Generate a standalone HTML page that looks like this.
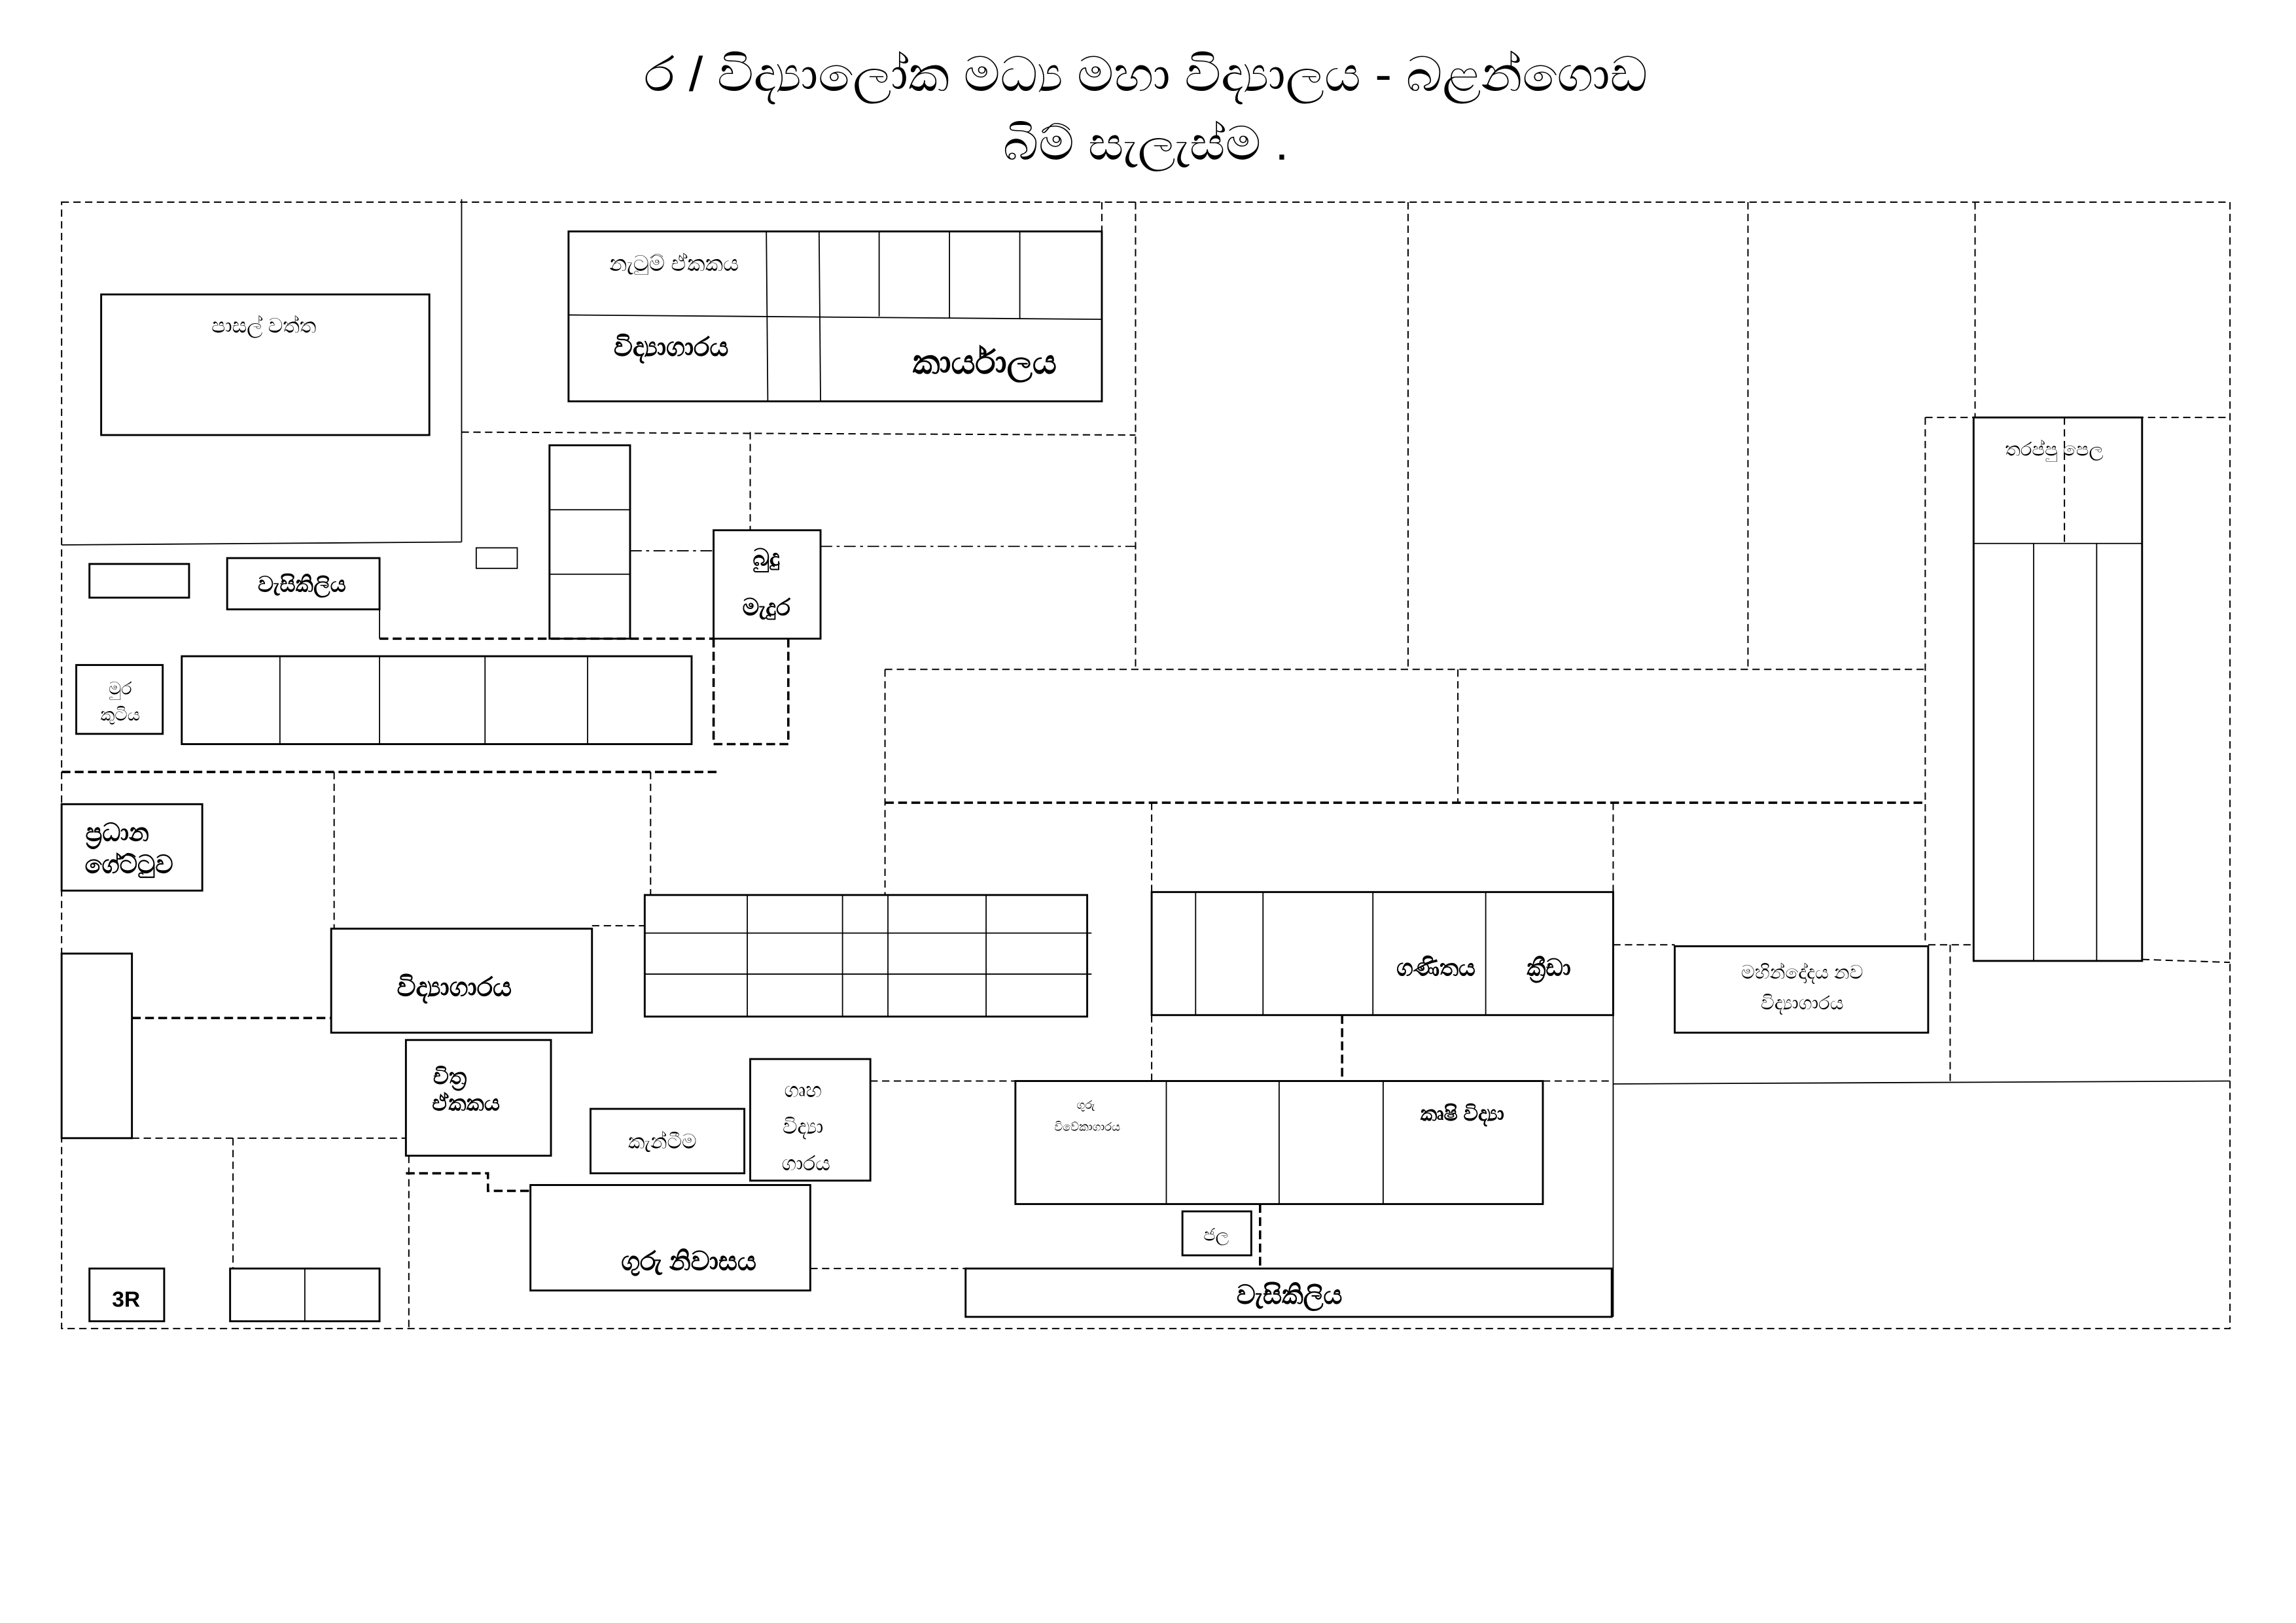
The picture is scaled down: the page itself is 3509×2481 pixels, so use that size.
<!DOCTYPE html>
<html><head><meta charset="utf-8"><style>
html,body{margin:0;padding:0;background:#fff;}
svg{display:block;}
text{font-family:"Liberation Sans","Noto Sans CJK SC",sans-serif;fill:#000;text-anchor:middle;}
.s{fill:none;stroke:#000;stroke-width:1.3;}
.t{fill:none;stroke:#000;stroke-width:0.8;}
.d{fill:none;stroke:#000;stroke-width:0.9;stroke-dasharray:5,3;}
.dd{fill:none;stroke:#000;stroke-width:1.6;stroke-dasharray:6,3;}
.dc{fill:none;stroke:#000;stroke-width:0.8;stroke-dasharray:8,3,2,3;}
</style></head><body>
<svg width="3509" height="2481" viewBox="0 0 1567 1108" xmlns="http://www.w3.org/2000/svg">
<rect width="1567" height="1108" fill="#fff"/>
<text x="782" y="62" font-size="33" textLength="685" lengthAdjust="spacingAndGlyphs">ර / විද්‍යාලෝක මධ්‍ය මහා විද්‍යාලය - බළන්ගොඩ</text>
<text x="782" y="109" font-size="32" textLength="195" lengthAdjust="spacingAndGlyphs">බිම් සැලැස්ම .</text>

<rect x="42" y="138" width="1480" height="769" class="d"/>

<rect x="69" y="201" width="224" height="96" class="s"/>
<text x="180" y="227" font-size="14">පාසල් වත්ත</text>
<line x1="315" y1="136" x2="315" y2="370" class="t"/>
<line x1="42" y1="372" x2="315" y2="370" class="t"/>

<rect x="388" y="158" width="364" height="116" class="s"/>
<line x1="388" y1="215" x2="752" y2="218" class="t"/>
<line x1="523" y1="158" x2="524" y2="274" class="t"/>
<line x1="559" y1="158" x2="560" y2="274" class="t"/>
<line x1="600" y1="158" x2="600" y2="216" class="t"/>
<line x1="648" y1="158" x2="648" y2="217" class="t"/>
<line x1="696" y1="158" x2="696" y2="218" class="t"/>
<text x="460" y="185" font-size="15">නැටුම් ඒකකය</text>
<text x="458" y="243" font-size="18" font-weight="bold">විද්‍යාගාරය</text>
<text x="672" y="255" font-size="23" font-weight="bold">කාර්යාලය</text>

<line x1="775" y1="138" x2="775" y2="456" class="d"/>
<line x1="752" y1="138" x2="752" y2="158" class="d"/>
<line x1="315" y1="295" x2="775" y2="297" class="d"/>
<line x1="512" y1="295" x2="512" y2="362" class="d"/>
<line x1="560" y1="373" x2="775" y2="373" class="dc"/>
<line x1="430" y1="376" x2="487" y2="376" class="dc"/>
<line x1="961" y1="138" x2="961" y2="456" class="d"/>
<line x1="1193" y1="138" x2="1193" y2="456" class="d"/>
<line x1="1348" y1="138" x2="1348" y2="285" class="d"/>

<rect x="375" y="304" width="55" height="132" class="s"/>
<line x1="375" y1="348" x2="430" y2="348" class="t"/>
<line x1="375" y1="392" x2="430" y2="392" class="t"/>
<rect x="325" y="374" width="28" height="14" class="t"/>
<rect x="61" y="385" width="68" height="23" class="s"/>
<rect x="155" y="381" width="104" height="35" class="s"/>
<text x="206" y="404" font-size="15" font-weight="bold">වැසිකිලිය</text>
<rect x="487" y="362" width="73" height="74" class="s"/>
<text x="523" y="386" font-size="16" font-weight="bold">බුදු</text>
<text x="523" y="420" font-size="16" font-weight="bold">මැදුර</text>
<line x1="259" y1="436" x2="487" y2="436" class="dd"/>
<line x1="487" y1="436" x2="487" y2="508" class="dd"/>
<line x1="538" y1="436" x2="538" y2="508" class="dd"/>
<line x1="487" y1="508" x2="538" y2="508" class="dd"/>
<line x1="259" y1="416" x2="259" y2="436" class="t"/>
<rect x="52" y="454" width="59" height="47" class="s"/>
<text x="82" y="474" font-size="12">මුර</text>
<text x="82" y="492" font-size="12">කුටිය</text>
<rect x="124" y="448" width="348" height="60" class="s"/>
<line x1="191" y1="448" x2="191" y2="508" class="t"/>
<line x1="259" y1="448" x2="259" y2="508" class="t"/>
<line x1="331" y1="448" x2="331" y2="508" class="t"/>
<line x1="401" y1="448" x2="401" y2="508" class="t"/>
<line x1="42" y1="527" x2="492" y2="527" class="dd"/>

<line x1="604" y1="457" x2="1314" y2="457" class="d"/>
<line x1="604" y1="457" x2="604" y2="611" class="d"/>
<line x1="604" y1="548" x2="1314" y2="548" class="dd"/>
<line x1="995" y1="457" x2="995" y2="548" class="d"/>
<line x1="1314" y1="285" x2="1522" y2="285" class="d"/>
<line x1="1314" y1="285" x2="1314" y2="645" class="d"/>
<line x1="1101" y1="548" x2="1101" y2="609" class="d"/>
<line x1="786" y1="548" x2="786" y2="609" class="d"/>
<line x1="444" y1="527" x2="444" y2="611" class="d"/>
<line x1="228" y1="527" x2="228" y2="634" class="d"/>

<rect x="42" y="549" width="96" height="59" class="s"/>
<text x="80" y="574" font-size="17" font-weight="bold">ප්‍රධාන</text>
<text x="88" y="596" font-size="17" font-weight="bold">ගේට්ටුව</text>

<rect x="1347" y="285" width="115" height="371" class="s"/>
<line x1="1347" y1="371" x2="1462" y2="371" class="t"/>
<line x1="1388" y1="371" x2="1388" y2="656" class="t"/>
<line x1="1431" y1="371" x2="1431" y2="656" class="t"/>
<line x1="1409" y1="285" x2="1409" y2="371" class="d"/>
<text x="1402" y="311" font-size="13">තරප්පු පෙල</text>
<line x1="1462" y1="655" x2="1522" y2="657" class="d"/>

<rect x="42" y="651" width="48" height="126" class="s"/>
<rect x="226" y="634" width="178" height="71" class="s"/>
<text x="310" y="680" font-size="18" font-weight="bold">විද්‍යාගාරය</text>
<line x1="404" y1="632" x2="440" y2="632" class="d"/>
<line x1="90" y1="695" x2="226" y2="695" class="dd"/>
<rect x="277" y="710" width="99" height="79" class="s"/>
<text x="307" y="740" font-size="15" font-weight="bold">චිත්‍ර</text>
<text x="318" y="758" font-size="15" font-weight="bold">ඒකකය</text>
<line x1="90" y1="777" x2="277" y2="777" class="d"/>
<line x1="159" y1="777" x2="159" y2="866" class="d"/>
<polyline points="277,801 333,801 333,813 362,813" class="dd"/>
<line x1="279" y1="789" x2="279" y2="907" class="d"/>
<rect x="403" y="757" width="105" height="44" class="s"/>
<text x="452" y="784" font-size="14">කැන්ටීම</text>
<rect x="512" y="723" width="82" height="83" class="s"/>
<text x="548" y="749" font-size="14">ගෘහ</text>
<text x="548" y="774" font-size="14">විද්‍යා</text>
<text x="550" y="799" font-size="14">ගාරය</text>
<rect x="362" y="809" width="191" height="72" class="s"/>
<text x="470" y="867" font-size="18" font-weight="bold">ගුරු නිවාසය</text>
<rect x="61" y="866" width="51" height="36" class="s"/>
<text x="86" y="892" font-size="15" font-weight="bold">3R</text>
<rect x="157" y="866" width="102" height="36" class="s"/>
<line x1="208" y1="866" x2="208" y2="902" class="t"/>
<line x1="553" y1="866" x2="659" y2="866" class="d"/>

<rect x="440" y="611" width="302" height="83" class="s"/>
<line x1="440" y1="637" x2="745" y2="637" class="t"/>
<line x1="440" y1="665" x2="745" y2="665" class="t"/>
<line x1="510" y1="611" x2="510" y2="694" class="t"/>
<line x1="575" y1="611" x2="575" y2="694" class="t"/>
<line x1="606" y1="611" x2="606" y2="694" class="t"/>
<line x1="673" y1="611" x2="673" y2="694" class="t"/>
<line x1="594" y1="738" x2="693" y2="738" class="d"/>

<rect x="786" y="609" width="315" height="84" class="s"/>
<line x1="816" y1="609" x2="816" y2="693" class="t"/>
<line x1="862" y1="609" x2="862" y2="693" class="t"/>
<line x1="937" y1="609" x2="937" y2="693" class="t"/>
<line x1="1014" y1="609" x2="1014" y2="693" class="t"/>
<text x="980" y="666" font-size="16" font-weight="bold">ගණිතය</text>
<text x="1057" y="666" font-size="16" font-weight="bold">ක්‍රීඩා</text>
<line x1="786" y1="693" x2="786" y2="738" class="d"/>
<line x1="916" y1="693" x2="916" y2="738" class="dd"/>
<line x1="1053" y1="738" x2="1101" y2="738" class="d"/>

<rect x="693" y="738" width="360" height="84" class="s"/>
<line x1="796" y1="738" x2="796" y2="822" class="t"/>
<line x1="873" y1="738" x2="873" y2="822" class="t"/>
<line x1="944" y1="738" x2="944" y2="822" class="t"/>
<text x="741" y="757" font-size="8">ගුරු</text>
<text x="742" y="772" font-size="8">විවේකාගාරය</text>
<text x="998" y="765" font-size="14" font-weight="bold">කෘෂි විද්‍යා</text>
<rect x="807" y="827" width="47" height="30" class="s"/>
<text x="830" y="847" font-size="12">ජල</text>
<line x1="860" y1="822" x2="860" y2="866" class="dd"/>
<rect x="659" y="866" width="441" height="33" class="s"/>
<text x="880" y="890" font-size="18" font-weight="bold">වැසිකිලිය</text>

<line x1="1101" y1="609" x2="1101" y2="899" class="t"/>
<line x1="1101" y1="740" x2="1522" y2="738" class="t"/>
<line x1="1101" y1="645" x2="1143" y2="645" class="d"/>
<line x1="1316" y1="645" x2="1347" y2="645" class="d"/>
<line x1="1331" y1="645" x2="1331" y2="740" class="d"/>
<rect x="1143" y="646" width="173" height="59" class="s"/>
<text x="1230" y="668" font-size="13">මහින්දෝදය නව</text>
<text x="1230" y="689" font-size="13">විද්‍යාගාරය</text>
</svg>
</body></html>
